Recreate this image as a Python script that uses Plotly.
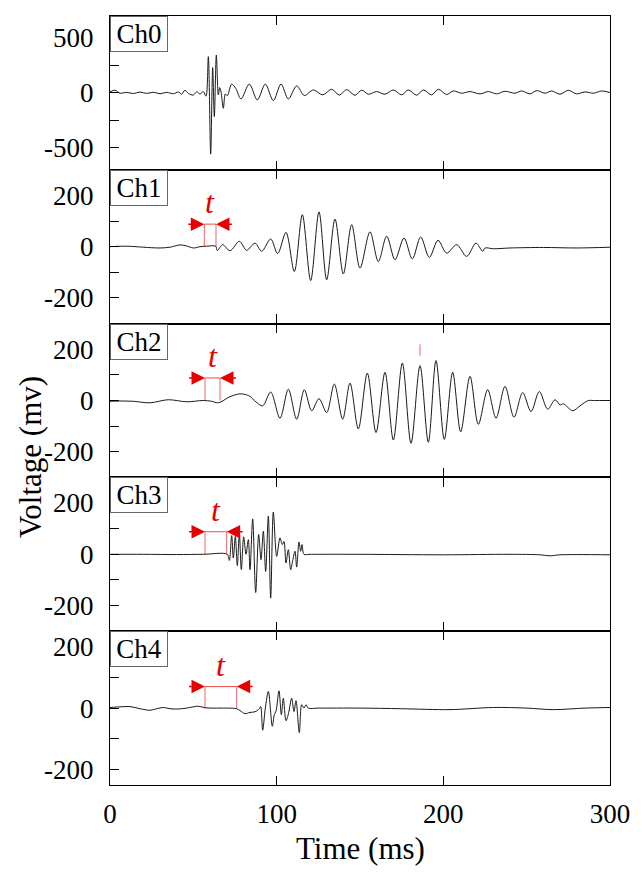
import plotly.graph_objects as go
from plotly.subplots import make_subplots

# waveform key points (time in ms, voltage in mV)
ch0_t = [0, 3, 6, 10, 14, 18, 22, 26, 30, 34, 38, 41, 43, 45, 47, 50, 52, 54, 56, 57.6,
         59, 60.4, 61.6, 62.6, 63.8, 65, 65.8, 66.6, 68, 69.2, 70.4, 73, 75.5, 78.6,
         83.6, 88.4, 93.2, 98, 102.6, 107, 112, 116.6, 122, 127.6, 133, 137.6, 142,
         147, 151, 155, 160, 165, 170, 175, 179, 184, 188, 193, 197, 202, 206, 211,
         216, 222, 227, 232, 237, 243, 247, 252, 256, 261, 265, 270, 275, 280, 285,
         290, 295, 300]
ch0_v = [9, 25, -3, 5, -6, 8, -5, 6, -8, 5, -8, 8, -12, 25, -5, -20, 10, -10, 12, -30,
         330, -557, 230, -215, 345, -18, 48, 10, -140, -10, -25, 80, 40, -55,
         80, -64, 80, -70, 80, -55, 64, -24, 27, -18, 33, -20, 30,
         -22, 25, -12, 12, -12, 27, -18, 27, -21, 27, -18, 33, -15, 18, -3,
         12, -9, 12, -9, 15, -3, 18, -9, 21, -3, 18, -12, 24, -9, 9,
         -3, 18, 3]

ch1_t = [0, 10, 20, 30, 36, 42, 46, 50, 54, 58, 63.4, 64.4, 67.6, 72, 77.6, 82, 87,
         91, 96.4, 100.6, 105.6, 110.6, 115.4, 120.4, 125.4, 130, 135, 140, 145, 150,
         156, 161, 166, 171, 176.4, 181.4, 186.4, 191.6, 196.8, 202, 208, 214, 219.6,
         223.6, 225, 230, 240, 260, 280, 300]
ch1_v = [0, 2, -2, -5, -2, 7, 3, -5, 0, 2, 2, -15, 8, -16, 21, -14, 14,
         -18, 30, -27, 56, -97, 125, -132, 136, -129, 108, -106, 86, -84,
         58, -58, 41, -51, 34, -48, 38, -42, 25, -25, 8, -38, 14,
         -18, -5, -8, -5, -3, -5, -2]

ch2_t = [0, 8, 14, 24, 35, 46, 56, 61, 65, 72, 78, 82, 84, 87.5, 91.6, 96.4, 102, 107,
         112, 116.6, 121, 125.4, 130, 134.6, 139.6, 144, 149, 154.4, 159.6, 165, 170,
         175.4, 180.6, 186, 191, 195.6, 200.6, 205.6, 210.4, 216, 221, 226.6, 231.6,
         237, 242.4, 247.6, 252.6, 257.6, 262.6, 267, 270, 272, 277.6, 282, 287, 290, 300]
ch2_v = [-3, -2, -3, -9, 3, -5, 0, -3, -9, 15, 26, 22, 16, -5, -21, 33, -69, 44,
         -73, 42, -40, 7, -47, 64, -73, 68, -111, 107, -125, 110, -154,
         146, -167, 136, -163, 156, -152, 110, -122, 94, -93, 42, -69,
         55, -65, 31, -43, 35, -34, 3, -17, -13, -40, -21, 0, 0, 0]

ch3_t = [0, 20, 40, 56, 70.4, 71.6, 73, 74, 75.2, 76.4, 77.6, 78.8, 80.2, 81.6, 83, 84,
         85.6, 87.4, 89.2, 90.6, 92, 93.4, 95, 96.4, 98, 100, 102, 103.4, 104.4, 105.6,
         107, 108.4, 109.6, 111, 112, 113.4, 114.4, 115.2, 116.4, 120, 150, 200, 240,
         258, 264, 270, 300]
ch3_v = [0, 0, -1, 0, 0, -24, 73, -14, 70, -44, 81, -60, 68, 0, 57, -60,
         138, -149, 77, -21, 90, -67, 149, -171, 165, -8, 64, 38, 50, -34,
         18, -60, -25, 12, -50, 48, 12, 38, 0, 0, 0, -2, 0,
         -2, -6, -2, -2]

ch4_t = [0, 6, 12, 18, 24, 28, 32, 36, 41, 46, 53, 57, 62, 70, 76, 78, 81, 84, 87, 89.6,
         90.4, 91.6, 93.2, 95, 97.4, 98.6, 99.6, 101.4, 102.8, 104, 105.6, 107.2, 109,
         110.4, 111.6, 113.6, 115, 116.4, 117.6, 119, 125, 150, 175, 204, 230, 250,
         266, 285, 300]
ch4_v = [2, 4, 5, -2, -7, -2, 2, -2, -3, 0, 6, 1, 0, 0, -2, -8, -18, -14, -12, -2,
         5, -72, 0, 54, -59, -21, -10, 56, -21, 32, -41, -15, 32,
         -11, 24, -80, 11, 0, 11, 0, 0, 0, -2, -5, 2, 0,
         -5, 0, 2]

channels = ["Ch0", "Ch1", "Ch2", "Ch3", "Ch4"]
times = [ch0_t, ch1_t, ch2_t, ch3_t, ch4_t]
volts = [ch0_v, ch1_v, ch2_v, ch3_v, ch4_v]

# arrival marks (ms) for Ch1..Ch4
t_start = [56.6, 57, 57, 57]
t_arrive = [63.6, 66, 70, 76]
arrow_v = [88, 88, 88, 70]

# small mark on Ch2 peak
ch2_mark_t = 186
ch2_mark_v = [174, 219]

y_ranges = [[-700, 700], [-300, 300], [-300, 300], [-300, 300], [-250, 250]]
y_ticks = [[-500, -250, 0, 250, 500]] + [[-200, -100, 0, 100, 200]] * 4
y_text = [["-500", "", "0", "", "500"]] + [["-200", "", "0", "", "200"]] * 4

FONT = "Liberation Serif, Times New Roman, serif"
RED = "#e60000"

fig = make_subplots(rows=5, cols=1, shared_xaxes=True, vertical_spacing=0)

for i in range(5):
    fig.add_trace(
        go.Scatter(x=times[i], y=volts[i], mode="lines",
                   line=dict(color="#1a1a1a", width=1, shape="spline", smoothing=0.9),
                   showlegend=False, hoverinfo="skip"),
        row=i + 1, col=1,
    )
    fig.update_yaxes(range=y_ranges[i], tickvals=y_ticks[i], ticktext=y_text[i],
                     row=i + 1, col=1)
    xr = "x" if i == 0 else f"x{i + 1}"
    yr = "y" if i == 0 else f"y{i + 1}"
    fig.add_annotation(text=channels[i], xref=f"{xr} domain", yref=f"{yr} domain",
                       x=0, y=1, xanchor="left", yanchor="top", showarrow=False,
                       bgcolor="white", bordercolor="#666", borderwidth=1,
                       borderpad=1, width=54, height=32,
                       font=dict(family=FONT, size=27, color="black"))

fig.update_xaxes(range=[0, 300], tickvals=[0, 100, 200, 300], ticks="inside",
                 ticklen=9, tickcolor="black", showline=True, linecolor="black",
                 linewidth=1.3, mirror="allticks", showgrid=False, zeroline=False,
                 tickfont=dict(family=FONT, size=27, color="black"),
                 ticklabelstandoff=4)
fig.update_yaxes(ticks="inside", ticklen=9, tickcolor="black", showline=True,
                 linecolor="black", linewidth=1.3, mirror=True, showgrid=False,
                 zeroline=False, tickfont=dict(family=FONT, size=27, color="black"),
                 ticklabelstandoff=10)

# red "t" markers
for k in range(4):
    row = k + 2
    xr, yr = f"x{row}", f"y{row}"
    a, b, h = t_start[k], t_arrive[k], arrow_v[k]
    for tv in (a, b):
        fig.add_shape(type="line", xref=xr, yref=yr, x0=tv, x1=tv, y0=0, y1=h,
                      line=dict(color=RED, width=1), opacity=0.6)
    fig.add_shape(type="line", xref=xr, yref=yr, x0=a, x1=b, y0=h, y1=h,
                  line=dict(color=RED, width=1), opacity=0.7)
    fig.add_annotation(xref=xr, yref=yr, axref=xr, ayref=yr, x=a, y=h, ax=a - 10.5,
                       ay=h, showarrow=True, arrowhead=2, arrowsize=1.8,
                       arrowwidth=1.5, arrowcolor=RED, text="", standoff=0)
    fig.add_annotation(xref=xr, yref=yr, axref=xr, ayref=yr, x=b, y=h, ax=b + 10.5,
                       ay=h, showarrow=True, arrowhead=2, arrowsize=1.8,
                       arrowwidth=1.5, arrowcolor=RED, text="", standoff=0)
    fig.add_annotation(xref=xr, yref=yr, x=(a + b) / 2, y=h, yanchor="bottom",
                       yshift=2, showarrow=False, text="<i>t</i>",
                       font=dict(family=FONT, size=32, color=RED))

fig.add_shape(type="line", xref="x3", yref="y3", x0=ch2_mark_t, x1=ch2_mark_t,
              y0=ch2_mark_v[0], y1=ch2_mark_v[1], line=dict(color=RED, width=1),
              opacity=0.6)

fig.add_annotation(text="Time (ms)", xref="paper", yref="paper", x=0.5, y=-0.082,
                   xanchor="center", yanchor="middle", showarrow=False,
                   font=dict(family=FONT, size=31, color="black"))
fig.add_annotation(text="Voltage (mv)", xref="paper", yref="paper", x=-0.16,
                   y=0.4265, xanchor="center", yanchor="middle", textangle=-90,
                   showarrow=False, font=dict(family=FONT, size=31, color="black"))

# page body has an 8px margin, so size the figure to sit inside the window
fig.update_layout(width=634, height=860, margin=dict(l=102, r=32, t=8, b=83),
                  plot_bgcolor="white", paper_bgcolor="white")
fig.write_html("out.html")
